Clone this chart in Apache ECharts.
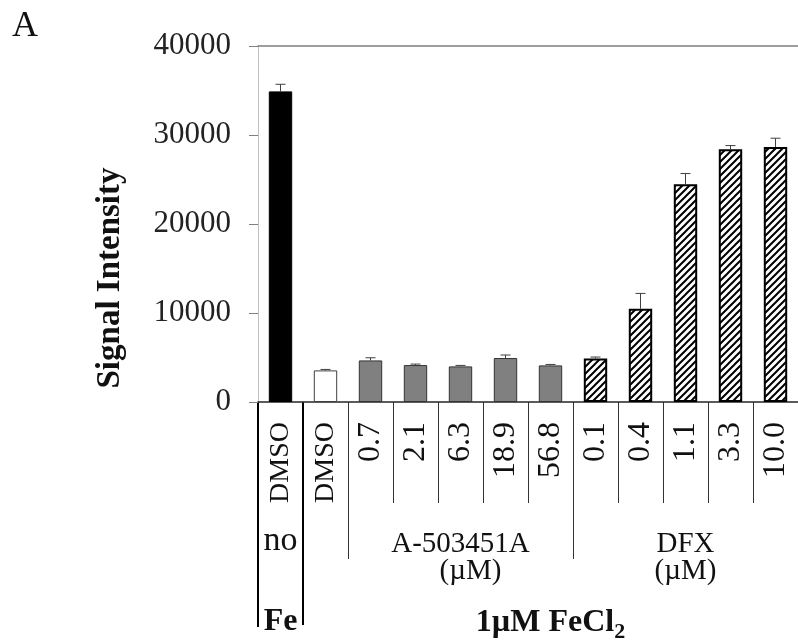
<!DOCTYPE html>
<html><head><meta charset="utf-8">
<script src="https://cdn.jsdelivr.net/npm/echarts@6/dist/echarts.min.js"></script>
<style>html,body{margin:0;padding:0;background:#fff}#c{width:798px;height:642px}</style>
</head><body><div id="c"></div>
<script>
// ---- data ----
const categories = ['DMSO','DMSO','0.7','2.1','6.3','18.9','56.8','0.1','0.4','1.1','3.3','10.0'];
const values = [34900, 3550, 4670, 4150, 4000, 4940, 4110, 4900, 10480, 24480, 28400, 28660];
const errors = [800, 110, 300, 110, 110, 340, 110, 150, 1720, 1190, 410, 980];
const treatment = ['none','dmso','A','A','A','A','A','DFX','DFX','DFX','DFX','DFX'];
const yTicks = [0, 10000, 20000, 30000, 40000];
const groupLabels = ['no', 'A-503451A', 'DFX'];
const unitLabel = '(µM)';
const ironLabels = ['Fe', '1µM FeCl', '2'];
const yTitle = 'Signal Intensity';
const panelLabel = 'A';

const F = '"Liberation Serif","Times New Roman",serif';
function hatch(){
  const n = 7;
  const c = document.createElement('canvas'); c.width = n; c.height = n;
  const g = c.getContext('2d');
  g.fillStyle = '#fff'; g.fillRect(0,0,n,n);
  g.strokeStyle = '#000'; g.lineWidth = 2; g.beginPath();
  g.moveTo(-1,1); g.lineTo(1,-1);
  g.moveTo(-1,n+1); g.lineTo(n+1,-1);
  g.moveTo(n-1,n+1); g.lineTo(n+1,n-1);
  g.stroke();
  return c;
}
const styleFor = {
  none: {color:'#000', borderColor:'#000', borderWidth:1},
  dmso: {color:'#fff', borderColor:'#404040', borderWidth:1},
  A:    {color:'#808080', borderColor:'#333', borderWidth:1},
  DFX:  {color:{image:hatch(), repeat:'repeat'}, borderColor:'#000', borderWidth:2}
};

const chart = echarts.init(document.getElementById('c'), null, {renderer:'canvas'});
chart.setOption({
  animation:false,
  backgroundColor:'#fff',
  grid:{left:258, top:46, width:548, height:356},
  xAxis:[{
    type:'category', data:categories, boundaryGap:true,
    axisLine:{lineStyle:{color:'#262626', width:1.5}},
    axisTick:{show:false},
    axisLabel:{interval:0, rotate:90, margin:20,
      formatter:(v)=> isNaN(parseFloat(v)) ? '{t|'+v+'}' : '{n|'+v+'}',
      rich:{t:{fontSize:28, fontFamily:F, color:'#111'}, n:{fontSize:32, fontFamily:F, color:'#111'}}}
  },{
    type:'category', data:categories, position:'top',
    axisLine:{lineStyle:{color:'#7f7f7f', width:1.5}},
    axisTick:{show:false}, axisLabel:{show:false}
  }],
  yAxis:{type:'value', min:yTicks[0], max:yTicks[yTicks.length-1], interval:yTicks[1]-yTicks[0],
    axisLine:{show:true, lineStyle:{color:'#bfbfbf', width:1}},
    axisTick:{show:true, length:9, lineStyle:{color:'#808080'}},
    splitLine:{show:false},
    axisLabel:{margin:27, fontFamily:F, fontSize:31, color:'#222', formatter:(v)=>String(v)}
  },
  series:[{
    type:'bar', barWidth:'52%',
    data: values.map((v,i)=>({value:v, itemStyle:styleFor[treatment[i]]}))
  },{
    type:'custom', z:3,
    data: values.map((v,i)=>[i, v, v+errors[i]]),
    encode:{x:0, y:[1,2]},
    renderItem:(params, api)=>{
      const b = api.coord([api.value(0), api.value(1)]);
      const t = api.coord([api.value(0), api.value(2)]);
      const hw = 5;
      return {type:'group', children:[
        {type:'line', shape:{x1:b[0], y1:b[1], x2:t[0], y2:t[1]}, style:{stroke:'#404040', lineWidth:1}},
        {type:'line', shape:{x1:t[0]-hw, y1:t[1], x2:t[0]+hw, y2:t[1]}, style:{stroke:'#404040', lineWidth:1}}
      ]};
    }
  }]
});

// ---- table below the axis ----
const cx = i => chart.convertToPixel({xAxisIndex:0}, i);
const band = cx(1) - cx(0);
const edge = i => cx(i) - band/2;
const axisY = chart.convertToPixel({yAxisIndex:0}, 0);
const mid = (a,b) => (edge(a) + edge(b+1))/2;

const g = [];
const dividers = [
  {b:0, len:225, w:2, c:'#000'}, {b:1, len:223, w:2, c:'#000'},
  {b:2, len:157, w:1, c:'#333'}, {b:3, len:101, w:1, c:'#333'}, {b:4, len:101, w:1, c:'#333'},
  {b:5, len:101, w:1, c:'#333'}, {b:6, len:101, w:1, c:'#333'},
  {b:7, len:157, w:1, c:'#333'}, {b:8, len:101, w:1, c:'#333'}, {b:9, len:101, w:1, c:'#333'},
  {b:10, len:101, w:1, c:'#333'}, {b:11, len:101, w:1, c:'#333'}
];
dividers.forEach(d=>{
  const raw = edge(d.b);
  const x = d.w === 1 ? Math.round(raw) + 0.5 : Math.round(raw);
  g.push({type:'line', silent:true, shape:{x1:x, y1:axisY, x2:x, y2:axisY+d.len}, style:{stroke:d.c, lineWidth:d.w}});
});
function txt(text, x, y, size, weight){
  return {type:'text', silent:true, x:x, y:y, style:{text:text, fontSize:size, fontFamily:F, fontWeight:weight||'normal', fill:'#111', align:'center', verticalAlign:'middle'}};
}
g.push(txt(groupLabels[0], cx(0), axisY+139, 34));
g.push(txt(groupLabels[1], mid(2,6), axisY+142, 29));
g.push(txt(unitLabel, mid(2,6)+10, axisY+169, 29));
g.push(txt(groupLabels[2], mid(7,11), axisY+142, 29));
g.push(txt(unitLabel, mid(7,11), axisY+169, 29));
g.push(txt(ironLabels[0], cx(0), axisY+220, 32, 'bold'));
g.push({type:'text', silent:true, x:mid(1,11), y:axisY+221, style:{
  text:'{a|'+ironLabels[1]+'}{s|'+ironLabels[2]+'}', align:'center', verticalAlign:'middle', fill:'#111',
  rich:{a:{fontSize:32, fontWeight:'bold', fontFamily:F, lineHeight:40, fill:'#111'},
        s:{fontSize:22, fontWeight:'bold', fontFamily:F, lineHeight:20, verticalAlign:'bottom', fill:'#111'}}}});
g.push({type:'text', silent:true, x:110, y:278, rotation:Math.PI/2, style:{text:yTitle, fontSize:33, fontWeight:'bold', fontFamily:F, fill:'#111', align:'center', verticalAlign:'middle'}});
g.push({type:'text', silent:true, x:12, y:9, style:{text:panelLabel, fontSize:36, fontFamily:F, fill:'#111', align:'left', verticalAlign:'top'}});
chart.setOption({graphic:g});
</script></body></html>
